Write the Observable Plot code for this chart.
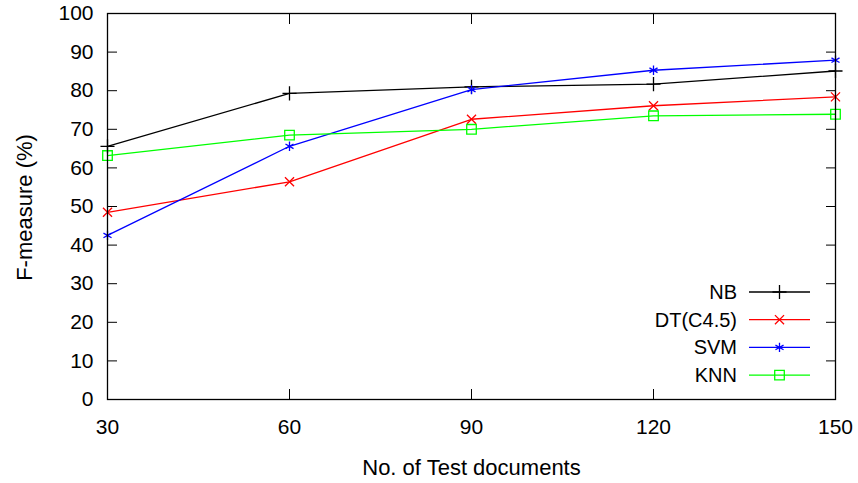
<!DOCTYPE html>
<html><head><meta charset="utf-8">
<script src="https://cdn.jsdelivr.net/npm/d3@7"></script>
<script src="https://cdn.jsdelivr.net/npm/@observablehq/plot@0.6"></script>
<style>html,body{margin:0;padding:0;background:#fff;}</style>
</head><body><div id="chart"></div>
<script>
const docs = [30, 60, 90, 120, 150];
const seriesNames = ["NB", "DT(C4.5)", "SVM", "KNN"];
const nb  = [65.6, 79.3, 81.0, 81.7, 85.1];
const dt  = [48.5, 56.4, 72.6, 76.1, 78.4];
const svm = [42.5, 65.6, 80.3, 85.3, 87.9];
const knn = [63.2, 68.5, 70.0, 73.5, 73.9];
const yTicks = [0, 10, 20, 30, 40, 50, 60, 70, 80, 90, 100];
const xTicks = [30, 60, 90, 120, 150];
const xLabel = "No. of Test documents";
const yLabel = "F-measure (%)";

const colors = ["#000000", "#ff0000", "#0000ff", "#00ff00"];
const symbols = ["plus", "times", "asterisk", "square"];
const d3symbols = [d3.symbolPlus, d3.symbolTimes, d3.symbolAsterisk, d3.symbolSquare];
const radii = [4.6, 4.2, 4.4, 5.4];
const values = [nb, dt, svm, knn];

const seriesData = values.map((v, i) => docs.map((d, j) => ({series: seriesNames[i], docs: d, f: v[j]})));

const marks = [];
seriesData.forEach((data, i) => {
  marks.push(Plot.line(data, {x: "docs", y: "f", stroke: colors[i], strokeWidth: 1.3}));
  marks.push(Plot.dot(data, {x: "docs", y: "f", stroke: colors[i], symbol: () => symbols[i], r: radii[i], strokeWidth: 1.3}));
});

const chart = Plot.plot({
  width: 858,
  height: 483,
  marginLeft: 107,
  marginRight: 23,
  marginTop: 13,
  marginBottom: 84,
  style: {fontFamily: "'Liberation Sans', Arial, sans-serif", fontSize: "21px", color: "black", background: "white"},
  x: {domain: [30, 150]},
  y: {domain: [0, 100]},
  symbol: {type: "identity"},
  marks: [
    Plot.axisY({anchor: "left", ticks: yTicks, tickSize: -10, tickPadding: 24, label: null}),
    Plot.axisY({anchor: "right", ticks: yTicks, tickSize: -10, text: null, label: null}),
    Plot.axisX({anchor: "bottom", ticks: xTicks, tickSize: -10, tickPadding: 30, label: null}),
    Plot.axisX({anchor: "top", ticks: xTicks, tickSize: -10, text: null, label: null}),
    Plot.text([yLabel], {text: d => d, frameAnchor: "left", textAnchor: "middle", lineAnchor: "middle", rotate: -90, dx: -83, dy: 1, fontSize: 22, fill: "black"}),
    Plot.text([xLabel], {text: d => d, frameAnchor: "bottom", lineAnchor: "middle", dy: 68, fontSize: 22, fill: "black"}),
    ...marks,
    Plot.frame({stroke: "black", strokeWidth: 1.3})
  ]
});
document.getElementById("chart").appendChild(chart);

// Legend (inside, bottom-right)
const xs = chart.scale("x"), ys = chart.scale("y");
const right = xs.range[1], bottom = ys.range[0];
const svg = d3.select(chart);
const g = svg.append("g").attr("font-family", "'Liberation Sans', Arial, sans-serif").attr("font-size", 20);
seriesNames.forEach((name, i) => {
  const yy = bottom - 107 + 27.7 * i;
  g.append("text").attr("x", right - 98).attr("y", yy).attr("dy", "0.35em").attr("text-anchor", "end").attr("fill", "black").text(name);
  g.append("line").attr("x1", right - 86).attr("x2", right - 25).attr("y1", yy).attr("y2", yy).attr("stroke", colors[i]).attr("stroke-width", 1.3);
  g.append("path").attr("transform", `translate(${right - 55.5},${yy})`)
    .attr("d", d3.symbol().type(d3symbols[i]).size(Math.PI * radii[i] * radii[i])())
    .attr("fill", "none").attr("stroke", colors[i]).attr("stroke-width", 1.3);
});
</script>
</body></html>
